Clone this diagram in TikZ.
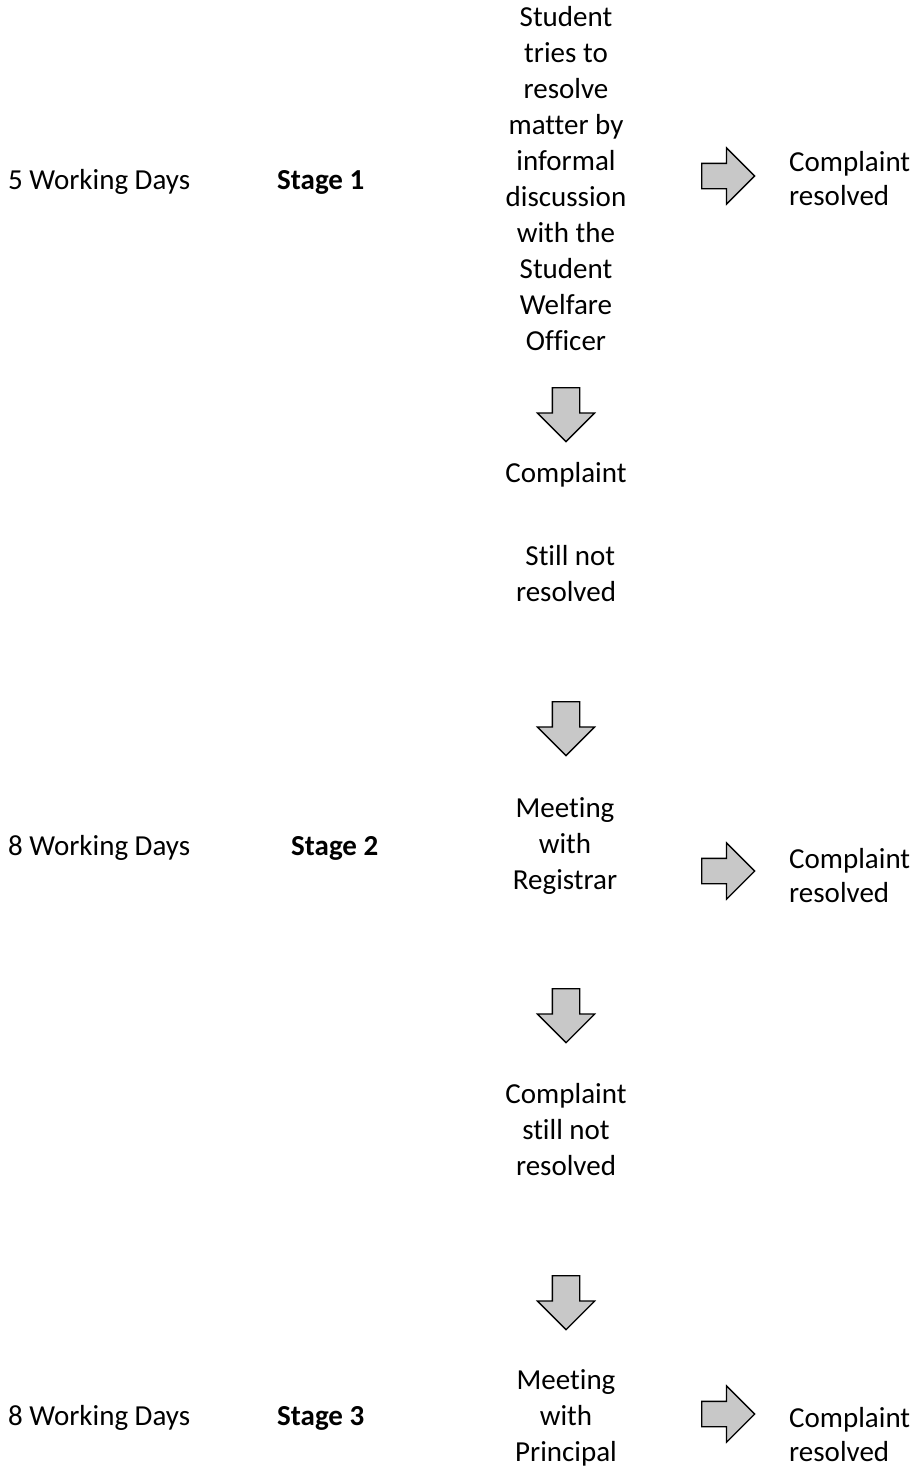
\documentclass[tikz,border=0pt]{standalone}
\usepackage{fontspec}
\setmainfont{Carlito}[Ligatures={NoCommon,NoContextual},RawFeature=-calt]
\usetikzlibrary{shapes.arrows}
\definecolor{arrowfill}{RGB}{200,200,200}
\newcommand\clines[1]{\begin{tabular}[t]{@{}c@{}}#1\end{tabular}}
\newcommand\llines[1]{\begin{tabular}[t]{@{}l@{}}#1\end{tabular}}
\begin{document}
\begin{tikzpicture}[x=1pt,y=-1pt,
  txt/.style={inner sep=0pt, font=\fontsize{29}{36}\selectfont},
  lbl/.style={txt, anchor=base west},
  mid/.style={txt, anchor=base},
  res/.style={inner sep=0pt, anchor=base west, font=\fontsize{29}{34}\selectfont},
  arrowbase/.style={single arrow, draw=black, fill=arrowfill, line width=1.3pt,
    single arrow tip angle=90, anchor=tail},
  downarrow/.style={arrowbase, shape border rotate=270, minimum height=54pt,
    minimum width=56pt, inner xsep=13pt, inner ysep=0pt, single arrow head extend=15pt},
  rightarrow/.style={arrowbase, shape border rotate=0, minimum height=53pt,
    minimum width=55pt, inner xsep=0pt, inner ysep=12pt, single arrow head extend=15.5pt}
]
\useasboundingbox (0,0) rectangle (915,1469);

% Stage 1
\node[mid] (s1) at (566,27) {\clines{Student\\tries to\\resolve\\matter by\\informal\\discussion\\with the\\Student\\Welfare\\Officer}};
\node[lbl] (d1) at (8,189) {5 Working Days};
\node[lbl] (st1) at (277,189) {\textbf{Stage 1}};
\node[rightarrow] (r1) at (701,176) {};
\node[res] (c1) at (789,171) {\llines{Complaint\\resolved}};
\node[downarrow] (a1) at (566,387) {};

\node[mid] (n1) at (566,482) {Complaint};
\node[mid] (n1b) at (566,565) {\clines{\hspace*{0.3em}Still not\\resolved}};
\node[downarrow] (a2) at (566,701) {};

% Stage 2
\node[mid] (m2) at (565,817) {\clines{Meeting\\with\\Registrar}};
\node[lbl] (d2) at (8,855) {8 Working Days};
\node[lbl] (st2) at (291,855) {\textbf{Stage 2}};
\node[rightarrow] (r2) at (701,871) {};
\node[res] (c2) at (789,868) {\llines{Complaint\\resolved}};
\node[downarrow] (a3) at (566,988) {};

\node[mid] (n2) at (566,1103) {\clines{Complaint\\still not\\resolved}};
\node[downarrow] (a4) at (566,1275) {};

% Stage 3
\node[mid] (m3) at (566,1389) {\clines{Meeting\\with\\Principal}};
\node[lbl] (d3) at (8,1425) {8 Working Days};
\node[lbl] (st3) at (277,1425) {\textbf{Stage 3}};
\node[rightarrow] (r3) at (701,1414) {};
\node[res] (c3) at (789,1427) {\llines{Complaint\\resolved}};
\end{tikzpicture}
\end{document}
